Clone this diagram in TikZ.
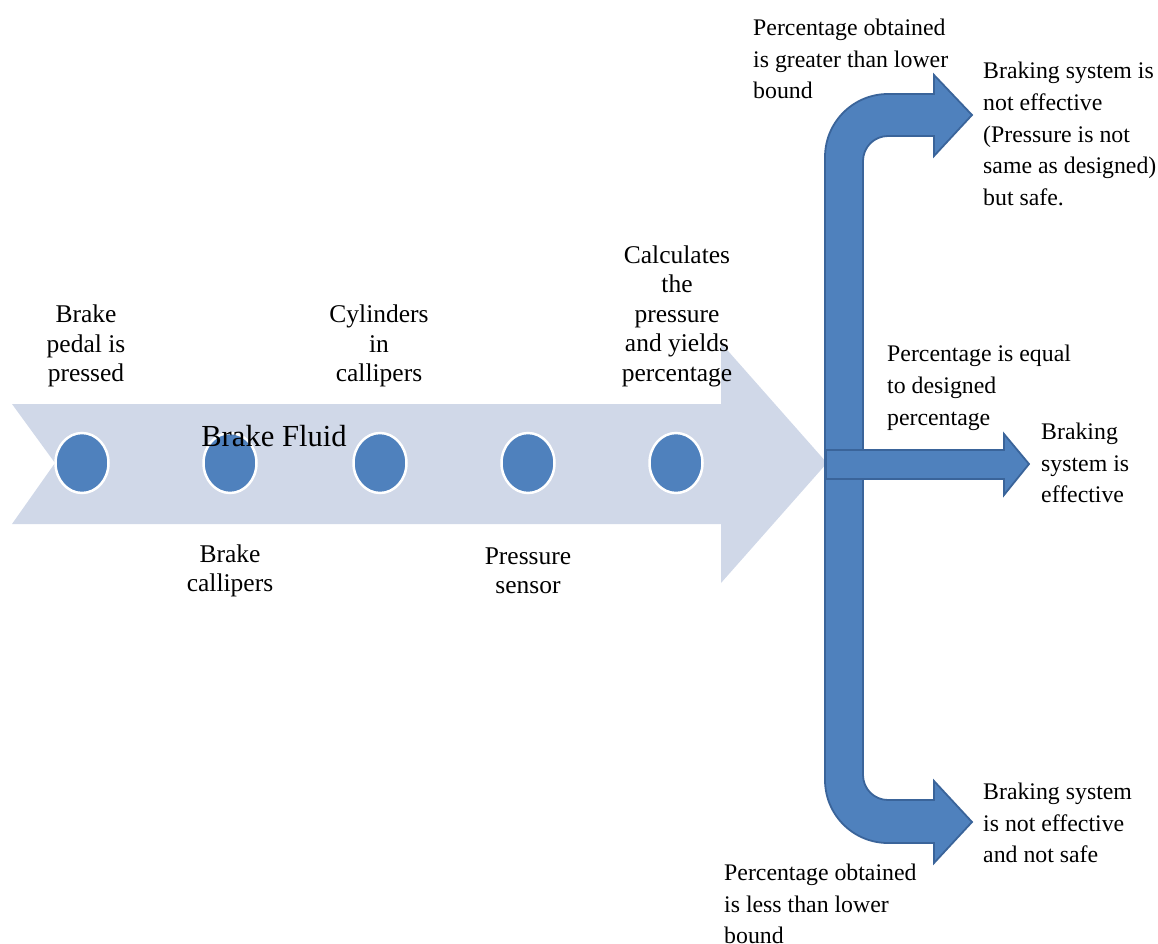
\documentclass[tikz,border=0pt]{standalone}
\usepackage{fontspec}
\setmainfont{Liberation Serif}
\usetikzlibrary{shapes.geometric}
\definecolor{fluidbg}{HTML}{D0D8E8}
\definecolor{accent}{HTML}{4F81BD}
\definecolor{rim}{HTML}{3A649A}
\tikzset{
    stage/.style={ellipse,fill=accent,draw=white,line width=2.5pt,
        minimum width=53pt,minimum height=60pt,inner sep=0pt},
    branch/.style={fill=accent,draw=rim,line width=1.8pt,line join=miter},
    txt/.style={font=\fontsize{25.5}{29.5}\selectfont,inner sep=0pt,align=center},
    ltxt/.style={font=\fontsize{23.8}{31.7}\selectfont,inner sep=0pt,align=left,anchor=west}
}
\begin{document}
\begin{tikzpicture}[x=1pt,y=1pt]
        \useasboundingbox (0,0) rectangle (1158,-944);
        % The big pale arrow
        \fill [fluidbg] (12,-404) -- (721,-404) -- (721,-343) -- (827,-463)
            -- (721,-583) -- (721,-524) -- (12,-524) -- (55,-463) -- cycle;
        % The stages along it
        \foreach \x/\n in {82/pedal,230/calliper,380/cylinder,528/sensor,676/calc}
            \node[stage] (\n) at (\x,-463) {};
        \node[font=\fontsize{30.6}{36}\selectfont,inner sep=0pt] (fluid) at (274,-436) {Brake Fluid};
        % Labels above and below
        \node[txt] (pedaltxt) at (86,-346) {Brake\\pedal is\\pressed};
        \node[txt] (cylindertxt) at (379,-346) {Cylinders\\in\\callipers};
        \node[txt] (calctxt) at (677,-316) {Calculates\\the\\pressure\\and yields\\percentage};
        \node[txt] (callipertxt) at (230,-571) {Brake\\callipers};
        \node[txt] (sensortxt) at (528,-571) {Pressure\\sensor};
        % The bracket, up and down
        \draw [branch] (888,-94) -- (934,-94) -- (934,-75) -- (972,-115)
            -- (934,-156) -- (934,-136) -- (888,-136) arc (90:180:25)
            -- (863,-775) arc (180:270:25) -- (934,-800) -- (934,-781)
            -- (972,-822) -- (934,-863) -- (934,-843) -- (888,-843)
            arc (270:180:63) -- (825,-157) arc (180:90:63) -- cycle;
        % The straight branch
        \draw [branch] (826,-450) -- (1004,-450) -- (1004,-434) -- (1029,-464)
            -- (1004,-495) -- (1004,-479) -- (826,-479) -- cycle;
        % Outcomes
        \node[ltxt] (greater) at (753,-59) {Percentage obtained\\is greater than lower\\bound};
        \node[ltxt] (safe) at (983,-134) {Braking system is\\not effective\\(Pressure is not\\same as designed)\\but safe.};
        \node[ltxt] (equal) at (887,-388) {Percentage is equal\\to designed\\percentage};
        \node[ltxt] (effective) at (1041,-463) {Braking\\system is\\effective};
        \node[ltxt] (unsafe) at (983,-823) {Braking system\\is not effective\\and not safe};
        \node[ltxt] (less) at (724,-904) {Percentage obtained\\is less than lower\\bound};
    \end{tikzpicture}
\end{document}
